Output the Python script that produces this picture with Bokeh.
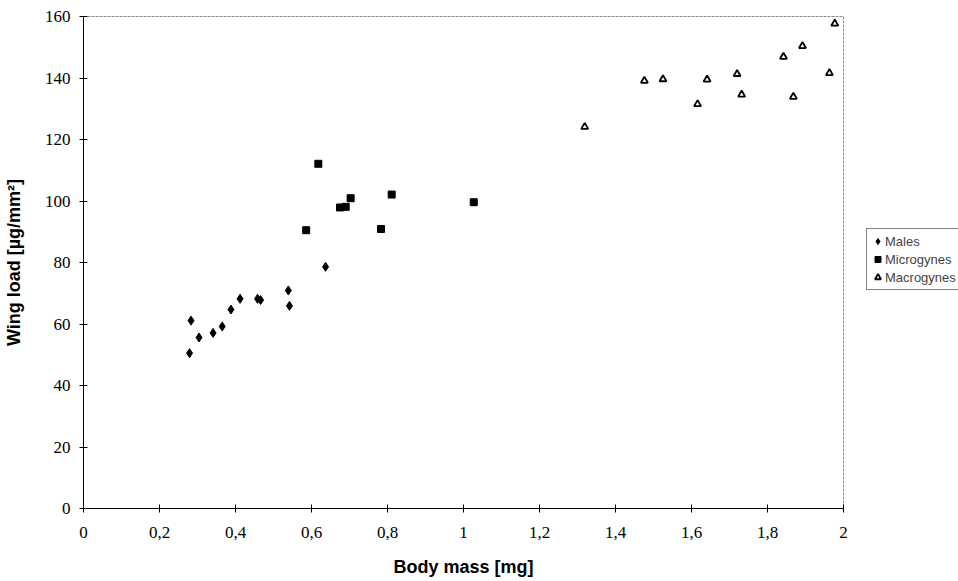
from bokeh.plotting import figure
from bokeh.models import FixedTicker, Legend, LegendItem
from bokeh.embed import file_html
from bokeh.resources import INLINE

males_x = [0.279, 0.283, 0.304, 0.341, 0.365, 0.388, 0.412, 0.458, 0.466, 0.539, 0.542, 0.637]
males_y = [50.5, 61.1, 55.6, 57.1, 59.2, 64.7, 68.2, 68.2, 67.8, 70.9, 65.9, 78.6]

micro_x = [0.586, 0.618, 0.675, 0.690, 0.703, 0.783, 0.811, 1.027]
micro_y = [90.5, 112.1, 97.9, 98.1, 100.9, 90.9, 102.1, 99.6]

macro_x = [1.319, 1.476, 1.525, 1.616, 1.641, 1.720, 1.732, 1.842, 1.868, 1.892, 1.963, 1.977]
macro_y = [124.1, 139.1, 139.6, 131.5, 139.5, 141.3, 134.6, 146.9, 133.9, 150.4, 141.6, 157.7]

x_ticks = [0, 0.2, 0.4, 0.6, 0.8, 1.0, 1.2, 1.4, 1.6, 1.8, 2.0]
x_labels = ["0", "0,2", "0,4", "0,6", "0,8", "1", "1,2", "1,4", "1,6", "1,8", "2"]
y_ticks = [0, 20, 40, 60, 80, 100, 120, 140, 160]

p = figure(frame_width=760, frame_height=492, x_range=(0, 2), y_range=(0, 160),
           output_backend="svg", toolbar_location=None,
           min_border_left=83, min_border_top=16, min_border_bottom=0, min_border_right=115)
p.background_fill_color = "white"
p.border_fill_color = "white"
p.grid.visible = False
p.outline_line_color = "#8a8a8a"
p.outline_line_dash = "3 1"
p.outline_line_width = 1

p.xaxis.ticker = FixedTicker(ticks=x_ticks)
p.xaxis.major_label_overrides = {t: l for t, l in zip(x_ticks, x_labels)}
p.yaxis.ticker = FixedTicker(ticks=y_ticks)
p.xaxis.minor_tick_line_color = None
p.yaxis.minor_tick_line_color = None
for ax in (p.xaxis, p.yaxis):
    ax.axis_line_color = "black"
    ax.axis_line_width = 1
    ax.major_tick_line_color = "black"
    ax.major_tick_in = 4
    ax.major_tick_out = 4
    ax.major_label_text_font = "Liberation Serif"
    ax.major_label_text_font_size = "17px"
    ax.major_label_text_color = "black"
    ax.axis_label_text_font = "Liberation Sans"
    ax.axis_label_text_font_style = "bold"
    ax.axis_label_text_font_size = "18px"
    ax.axis_label_text_color = "black"
p.xaxis.axis_label = "Body mass [mg]"
p.yaxis.axis_label = "Wing load [µg/mm²]"
p.xaxis.major_label_standoff = 14
p.yaxis.major_label_standoff = 9
p.xaxis.axis_label_standoff = 16
p.yaxis.axis_label_standoff = 18

r1 = p.scatter(males_x, males_y, marker="diamond", size=9, fill_color="black", line_color="black")
r2 = p.scatter(micro_x, micro_y, marker="square", size=7, fill_color="black", line_color="black")
r3 = p.scatter(macro_x, macro_y, marker="triangle", size=7, fill_color="white", line_color="black", line_width=1.8)

legend = Legend(items=[LegendItem(label="Males", renderers=[r1]),
                       LegendItem(label="Microgynes", renderers=[r2]),
                       LegendItem(label="Macrogynes", renderers=[r3])],
                location=(23, 218))
legend.border_line_color = "black"
legend.border_line_width = 1
legend.label_text_font = "Liberation Sans"
legend.label_text_font_size = "13px"
legend.label_height = 18
legend.glyph_height = 18
legend.glyph_width = 15
legend.label_standoff = 0
legend.spacing = 0
legend.padding = 3
legend.margin = 0
legend.background_fill_color = "white"
p.add_layout(legend, "right")

open("out.html", "w").write(file_html(p, INLINE))
